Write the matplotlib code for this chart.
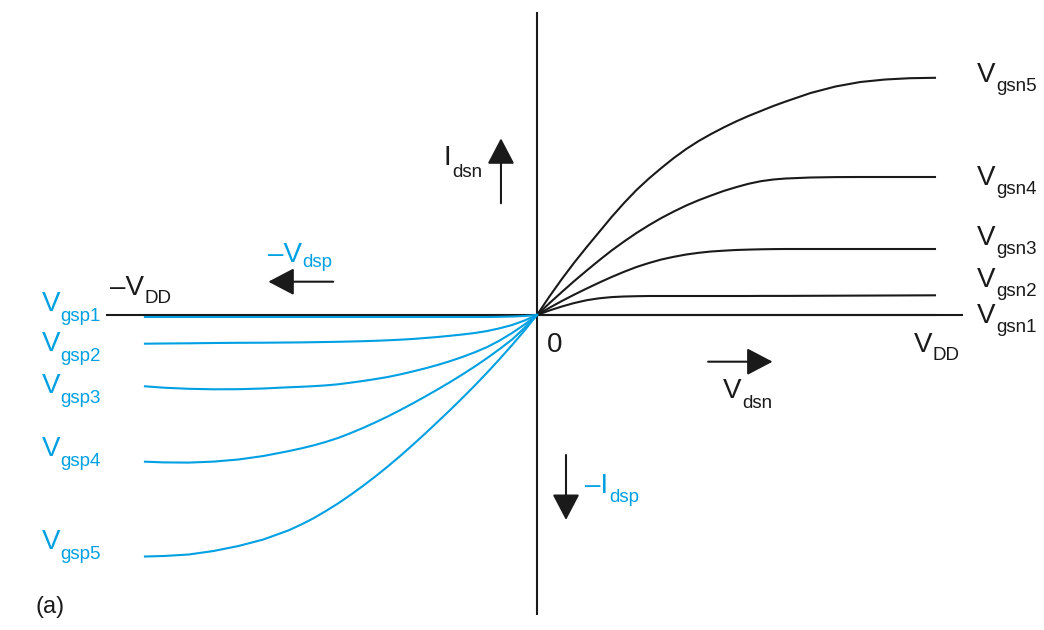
import numpy as np
import matplotlib
matplotlib.use("Agg")
import matplotlib.pyplot as plt

plt.rcParams['font.family'] = ['Liberation Sans', 'DejaVu Sans']

# values: Vds in units of VDD, Id in arbitrary units
vds_n = [0, 0.03125, 0.0625, 0.09375, 0.125, 0.15625, 0.1875, 0.21875, 0.25, 0.28125,
         0.3125, 0.34375, 0.375, 0.40625, 0.4375, 0.46875, 0.5, 0.53125, 0.5625, 0.59375,
         0.625, 0.6875, 0.75, 0.8125, 0.875, 0.9375, 1.0]
ids_n = {
    'gsn1': [0] * 27,
    'gsn2': [0, 0.045, 0.085, 0.12, 0.148, 0.167, 0.179, 0.185, 0.188, 0.19,
             0.19, 0.19, 0.19, 0.19, 0.19, 0.19, 0.19, 0.19, 0.191, 0.191,
             0.191, 0.192, 0.193, 0.194, 0.195, 0.196, 0.197],
    'gsn3': [0, 0.072, 0.14, 0.204, 0.265, 0.324, 0.38, 0.432, 0.48, 0.52,
             0.555, 0.582, 0.605, 0.622, 0.635, 0.643, 0.65, 0.654, 0.657, 0.659,
             0.66, 0.66, 0.66, 0.66, 0.66, 0.66, 0.66],
    'gsn4': [0, 0.118, 0.23, 0.34, 0.445, 0.547, 0.645, 0.735, 0.82, 0.898,
             0.97, 1.035, 1.095, 1.148, 1.195, 1.24, 1.278, 1.312, 1.338, 1.355,
             1.365, 1.375, 1.379, 1.38, 1.38, 1.38, 1.38],
    'gsn5': [0, 0.185, 0.36, 0.525, 0.68, 0.83, 0.98, 1.12, 1.25, 1.365,
             1.47, 1.57, 1.66, 1.74, 1.81, 1.875, 1.935, 1.99, 2.04, 2.09,
             2.135, 2.22, 2.285, 2.33, 2.355, 2.368, 2.372],
}

vds_p = [0, -0.03125, -0.0625, -0.09375, -0.125, -0.15625, -0.1875, -0.21875, -0.25, -0.28125,
         -0.3125, -0.34375, -0.375, -0.40625, -0.4375, -0.46875, -0.5, -0.53125, -0.5625, -0.59375,
         -0.625, -0.6875, -0.75, -0.8125, -0.875, -0.9375, -0.985]
ids_p = {
    'gsp1': [0, -0.01, -0.015, -0.018] + [-0.02] * 23,
    'gsp2': [0, -0.055, -0.10, -0.133, -0.16, -0.18, -0.195, -0.208, -0.22, -0.23,
             -0.24, -0.247, -0.253, -0.258, -0.262, -0.265, -0.268, -0.27, -0.272, -0.274,
             -0.275, -0.277, -0.278, -0.28, -0.283, -0.285, -0.287],
    'gsp3': [0, -0.095, -0.18, -0.255, -0.32, -0.373, -0.42, -0.462, -0.50, -0.534,
             -0.565, -0.594, -0.62, -0.641, -0.66, -0.677, -0.693, -0.704, -0.712, -0.718,
             -0.723, -0.735, -0.742, -0.743, -0.738, -0.727, -0.713],
    'gsp4': [0, -0.128, -0.245, -0.34, -0.43, -0.515, -0.595, -0.672, -0.745, -0.816,
             -0.885, -0.951, -1.015, -1.074, -1.13, -1.182, -1.23, -1.27, -1.305, -1.335,
             -1.362, -1.41, -1.445, -1.466, -1.476, -1.474, -1.467],
    'gsp5': [0, -0.155, -0.30, -0.44, -0.575, -0.705, -0.83, -0.952, -1.07, -1.187,
             -1.30, -1.41, -1.515, -1.615, -1.71, -1.80, -1.885, -1.962, -2.035, -2.098,
             -2.155, -2.245, -2.31, -2.36, -2.395, -2.41, -2.415],
}

# label baselines (y) for the curve names
n_label_y = {'gsn5': 2.333, 'gsn4': 1.30, 'gsn3': 0.70, 'gsn2': 0.277, 'gsn1': -0.077}
p_label_y = {'gsp1': 0.043, 'gsp2': -0.36, 'gsp3': -0.777, 'gsp4': -1.407, 'gsp5': -2.343}

BLACK = '#1a1a1a'
BLUE = '#00a0e3'

fig = plt.figure(figsize=(10.44, 6.3), dpi=100)
ax = fig.add_axes([0, 0, 1, 1])
ax.set_xlim(-1.3492, 1.2739)
ax.set_ylim(-3.15, 3.15)
ax.axis('off')

# axes of the sketch
ax.plot([-1.083, 1.070], [0, 0], color=BLACK, lw=1.5, solid_capstyle='butt')
ax.plot([0, 0], [3.03, -3.0], color=BLACK, lw=1.5, solid_capstyle='butt')

for k, v in ids_n.items():
    ax.plot(vds_n, v, color=BLACK, lw=1.5, solid_joinstyle='round')
for k, v in ids_p.items():
    ax.plot(vds_p, v, color=BLUE, lw=1.5, solid_joinstyle='round')


def sublabel(x, y, main, sub, color, drop, size=20, subsize=13.5):
    t = ax.text(x, y, main, fontsize=size, color=color, ha='left', va='baseline')
    # bbox bottom sits ~5.9 px under the baseline of the main text
    ax.annotate(sub, xy=(1, 0), xycoords=t, xytext=(0.5, 5.9 - drop),
                textcoords='offset pixels', fontsize=subsize, color=color,
                ha='left', va='baseline')


for k, yy in n_label_y.items():
    sublabel(1.106, yy, 'V', k, BLACK, 9)
for k, yy in p_label_y.items():
    sublabel(-1.245, yy, 'V', k, BLUE, 10)

sublabel(0.946, -0.367, 'V', 'DD', BLACK, 8.3)
sublabel(-1.073, 0.20, '–V', 'DD', BLACK, 8.3)
sublabel(-0.676, 0.533, '–V', 'dsp', BLUE, 5)
sublabel(-0.234, 1.50, 'I', 'dsn', BLACK, 11.7)
sublabel(0.467, -0.833, 'V', 'dsn', BLACK, 10)
sublabel(0.121, -1.783, '–I', 'dsp', BLUE, 8.4)
ax.text(0.025, -0.367, '0', fontsize=20, color=BLACK, ha='left', va='baseline')
ax.text(-1.259, -2.98, '(a)', fontsize=17, color=BLACK, ha='left', va='baseline')

arrow = dict(arrowstyle='-|>,head_length=0.8,head_width=0.42', mutation_scale=20,
             lw=1.5, color=BLACK, shrinkA=0, shrinkB=0)
ax.annotate('', xy=(-0.0905, 1.767), xytext=(-0.0905, 1.117), arrowprops=arrow)
ax.annotate('', xy=(-0.675, 0.333), xytext=(-0.512, 0.333), arrowprops=arrow)
ax.annotate('', xy=(0.592, -0.467), xytext=(0.430, -0.467), arrowprops=arrow)
ax.annotate('', xy=(0.0729, -2.05), xytext=(0.0729, -1.40), arrowprops=arrow)

fig.savefig('out.png', dpi=100)
